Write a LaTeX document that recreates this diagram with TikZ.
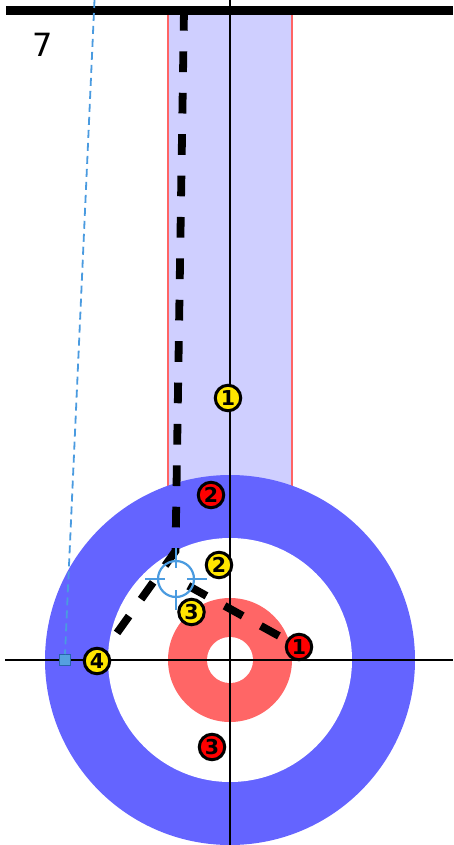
\documentclass[tikz,border=0pt]{standalone}
\usepackage{fontspec}
\setmainfont{DejaVu Sans}
\definecolor{ringblue}{RGB}{100,100,255}
\definecolor{lanefill}{RGB}{207,207,255}
\definecolor{lanered}{RGB}{255,100,100}
\definecolor{ringred}{RGB}{255,102,102}
\definecolor{stoneyellow}{RGB}{255,230,0}
\definecolor{stonered}{RGB}{255,0,0}
\definecolor{markblue}{RGB}{74,155,224}
\definecolor{sqfill}{RGB}{85,160,224}
\definecolor{sqdraw}{RGB}{40,100,170}
\begin{document}
\begin{tikzpicture}[x=1pt,y=-1pt,
  stone/.style={circle,draw=black,line width=3pt,minimum size=25.5pt,inner sep=0pt,
    font=\fontsize{20.5}{20.5}\selectfont\bfseries},
  ystone/.style={stone,fill=stoneyellow},
  rstone/.style={stone,fill=stonered},
  pathline/.style={line width=7.8pt,dash pattern=on 20.7pt off 20.7pt},
  guideline/.style={markblue,line width=1.8pt,dash pattern=on 8pt off 5pt},
  axisline/.style={black,line width=2.4pt},
  crossmark/.style={markblue,line width=2.2pt}]
\useasboundingbox (0,0) rectangle (453,845);
\fill[white] (0,0) rectangle (453,845);
% lane
\fill[lanefill] (168,10) rectangle (292,660);
\draw[lanered,line width=2.6pt] (168,10) -- (168,660);
\draw[lanered,line width=2.6pt] (292,10) -- (292,660);
% house
\fill[ringblue] (230,660) circle[radius=185];
\fill[white] (230,660) circle[radius=122];
\fill[ringred] (230,660) circle[radius=62];
\fill[white] (230,660) circle[radius=23];
% axes
\coordinate (vtop) at (230,0);
\coordinate (vbot) at (230,845);
\coordinate (hl) at (5,660);
\coordinate (hr) at (453,660);
\draw[axisline] (vtop) -- (vbot);
\draw[axisline] (hl) -- (hr);
\coordinate (tl) at (6,10.4);
\coordinate (tr) at (453,10.4);
\draw[line width=9.3pt] (tl) -- (tr);
% end label
\node[font=\fontsize{32}{32}\selectfont,inner sep=0pt] (endno) at (42.8,44.5) {7};
% stone positions
\coordinate (y1c) at (228,398);
\coordinate (y2c) at (219,565);
\coordinate (y3c) at (191.5,612);
\coordinate (y4c) at (97,661);
\coordinate (r1c) at (299,647);
\coordinate (r2c) at (211,495);
\coordinate (r3c) at (212,747);
% shot paths
\coordinate (start) at (184,10);
\coordinate (turn) at (175.5,551);
\coordinate (hit) at (176,579);
\draw[pathline] (start) -- (turn) -- (y4c);
\draw[pathline,dash phase=27.3pt] (hit) -- (r1c);
% stones
\node[ystone] (y1) at (y1c) {1};
\node[ystone] (y2) at (y2c) {2};
\node[ystone] (y3) at (y3c) {3};
\node[ystone] (y4) at (y4c) {4};
\node[rstone] (r1) at (r1c) {1};
\node[rstone] (r2) at (r2c) {2};
\node[rstone] (r3) at (r3c) {3};
% crosshair
\draw[crossmark] (hit) circle[radius=18];
\draw[crossmark] ([xshift=-31pt]hit) -- ([xshift=-11pt]hit);
\draw[crossmark] ([xshift=11pt]hit) -- ([xshift=31pt]hit);
\draw[crossmark] ([yshift=31pt]hit) -- ([yshift=11pt]hit);
\draw[crossmark] ([yshift=-11pt]hit) -- ([yshift=-31pt]hit);
% guide line and marker
\coordinate (gtop) at (94.5,0);
\node[draw=sqdraw,fill=sqfill,line width=1pt,minimum size=11pt,inner sep=0pt] (sq) at (65,660) {};
\draw[guideline] (gtop) -- (sq.north);
\end{tikzpicture}
\end{document}
